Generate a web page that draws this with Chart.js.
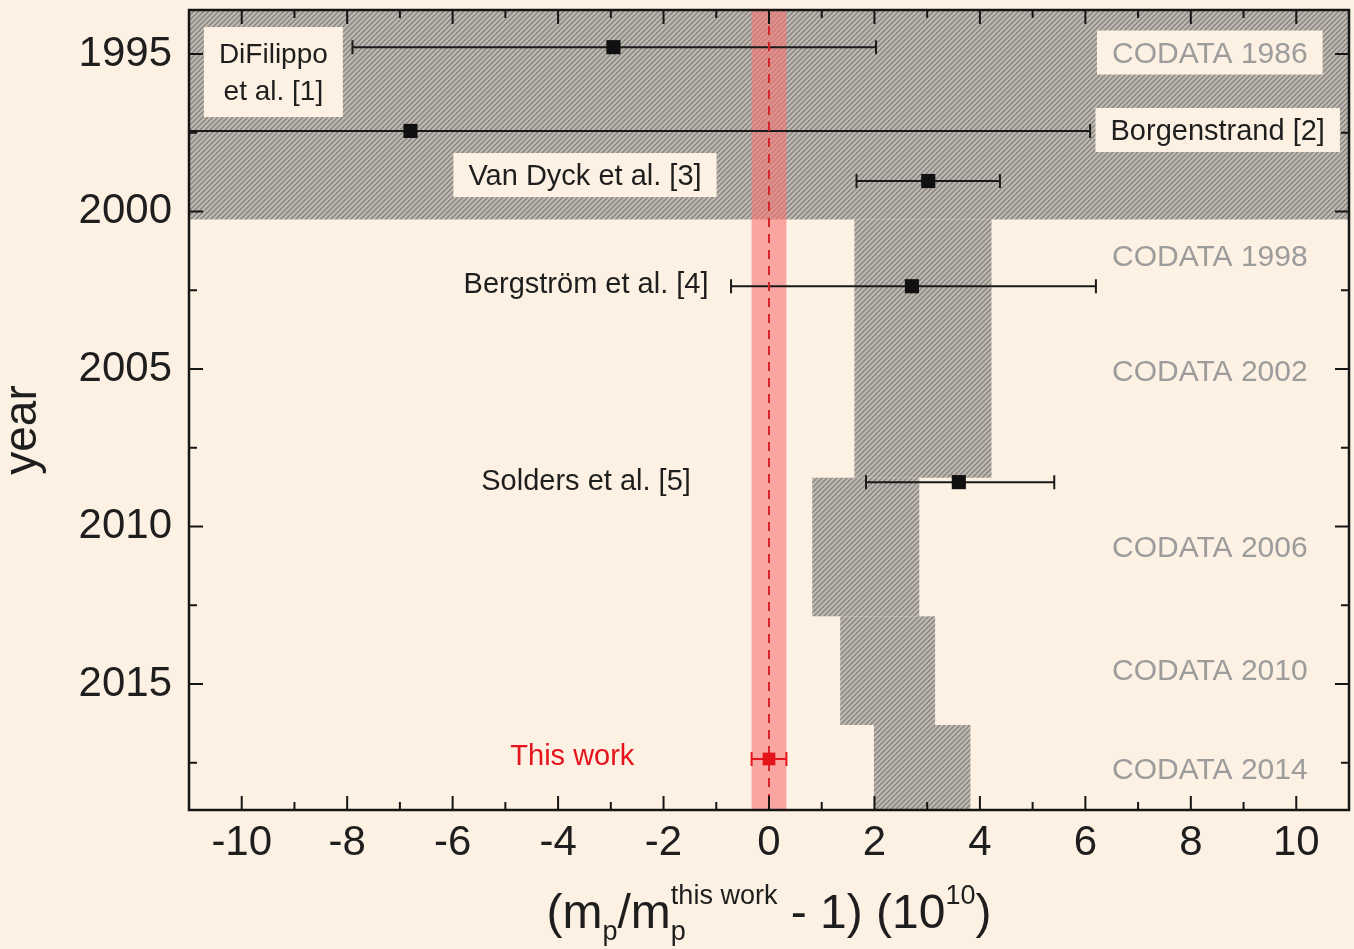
<!DOCTYPE html>
<html>
<head>
<meta charset="utf-8">
<script src="https://cdn.jsdelivr.net/npm/chart.js@4.4.1/dist/chart.umd.min.js"></script>
<style>
  html, body { margin: 0; padding: 0; background: #fdf1e3; }
  canvas { display: block; }
</style>
</head>
<body>
<canvas id="massChart" width="1354" height="949"></canvas>
<script>
// measurements (x in units of 1e-10, y = year of publication)
var studyNames = ["DiFilippo\net al. [1]", "Borgenstrand [2]", "Van Dyck et al. [3]", "Bergström et al. [4]", "Solders et al. [5]"];
var studyYear  = [1994.78, 1997.44, 1999.03, 2002.37, 2008.59];
var studyValue = [-2.95, -6.8, 3.02, 2.71, 3.6];
var studyLow   = [-7.9, -19.7, 1.66, -0.72, 1.84];
var studyHigh  = [2.03, 6.09, 4.38, 6.2, 5.41];

var thisWorkYear  = [2017.38];
var thisWorkValue = [0];
var thisWorkLow   = [-0.33];
var thisWorkHigh  = [0.33];

// CODATA recommended values, drawn as bands
var codataNames = ["CODATA 1986", "CODATA 1998", "CODATA 2002", "CODATA 2006", "CODATA 2010", "CODATA 2014"];
var codataFrom  = [1990, 2000.25, 2004.3, 2008.45, 2012.85, 2016.3];
var codataTo    = [2000.25, 2004.3, 2008.45, 2012.85, 2016.3, 2022];
var codataLow   = [-25, 1.62, 1.62, 0.82, 1.35, 1.99];
var codataHigh  = [25, 4.22, 4.22, 2.85, 3.15, 3.82];

// axes
var xTickValues  = [-10, -8, -6, -4, -2, 0, 2, 4, 6, 8, 10];
var xMinorValues = [-11, -9, -7, -5, -3, -1, 1, 3, 5, 7, 9, 11];
var yTickValues  = [1995, 2000, 2005, 2010, 2015];
var yMinorValues = [1997.5, 2002.5, 2007.5, 2012.5, 2017.5];

// where the text labels sit (data coordinates)
var studyLabelAt = [[-9.4, 1995.57], [8.51, 1997.41], [-3.49, 1998.84], [-3.47, 2002.27], [-3.47, 2008.52]];
var studyLabelBox = [true, true, true, false, false];
var codataLabelX = 8.36;
var codataLabelY = [1994.95, 2001.41, 2005.06, 2010.65, 2014.56, 2017.7];
var thisWorkLabelAt = [-3.73, 2017.25];

var BG = "#fdf1e3";
var FONT = "'Liberation Sans', Arial, sans-serif";
var RED = "#e5141c";

function makeHatch(ctx) {
    var c = document.createElement("canvas");
    c.width = 5; c.height = 5;
    var g = c.getContext("2d");
    g.fillStyle = "#bfbab3";
    g.fillRect(0, 0, 5, 5);
    g.strokeStyle = "#87827c";
    g.lineWidth = 1.4;
    g.beginPath();
    g.moveTo(-1, 6); g.lineTo(6, -1);
    g.moveTo(-1, 1); g.lineTo(1, -1);
    g.moveTo(4, 6); g.lineTo(6, 4);
    g.stroke();
    return ctx.createPattern(c, "repeat");
}

function drawLabel(ctx, text, px, py, color, boxed, size) {
    var lines = text.split("\n");
    var gap = 37;
    ctx.font = size + "px " + FONT;
    var w = 0;
    lines.forEach(function (l) { w = Math.max(w, ctx.measureText(l).width); });
    if (boxed) {
        var bw = w + 30, bh = 44 + (lines.length - 1) * 46;
        ctx.fillStyle = BG;
        ctx.fillRect(px - bw / 2, py - bh / 2, bw, bh);
    }
    ctx.fillStyle = color;
    ctx.textAlign = "center";
    ctx.textBaseline = "middle";
    lines.forEach(function (l, i) {
        ctx.fillText(l, px, py + (i - (lines.length - 1) / 2) * gap + 2);
    });
}

function drawErrorBar(ctx, xs, ys, low, high, y, color, cap) {
    var py = ys.getPixelForValue(y);
    var a = xs.getPixelForValue(low), b = xs.getPixelForValue(high);
    ctx.strokeStyle = color;
    ctx.lineWidth = 2;
    ctx.beginPath();
    ctx.moveTo(a, py); ctx.lineTo(b, py);
    ctx.moveTo(a, py - cap); ctx.lineTo(a, py + cap);
    ctx.moveTo(b, py - cap); ctx.lineTo(b, py + cap);
    ctx.stroke();
}

var backgroundPlugin = {
    id: "background",
    beforeDraw: function (chart) {
        var ctx = chart.ctx;
        ctx.save();
        ctx.fillStyle = BG;
        ctx.fillRect(0, 0, chart.width, chart.height);
        ctx.restore();
    },
    beforeDatasetsDraw: function (chart) {
        var ctx = chart.ctx, a = chart.chartArea;
        var xs = chart.scales.x, ys = chart.scales.y;
        ctx.save();
        ctx.beginPath();
        ctx.rect(a.left, a.top, a.right - a.left, a.bottom - a.top);
        ctx.clip();

        // CODATA bands
        ctx.fillStyle = makeHatch(ctx);
        for (var i = 0; i < codataNames.length; i++) {
            var x1 = xs.getPixelForValue(codataLow[i]), x2 = xs.getPixelForValue(codataHigh[i]);
            var y1 = ys.getPixelForValue(codataFrom[i]), y2 = ys.getPixelForValue(codataTo[i]);
            ctx.fillRect(x1, y1, x2 - x1, y2 - y1);
        }

        // labels
        for (i = 0; i < codataNames.length; i++) {
            drawLabel(ctx, codataNames[i], xs.getPixelForValue(codataLabelX), ys.getPixelForValue(codataLabelY[i]), "#9c9c9c", i === 0, 30);
        }
        for (i = 0; i < studyNames.length; i++) {
            drawLabel(ctx, studyNames[i], xs.getPixelForValue(studyLabelAt[i][0]), ys.getPixelForValue(studyLabelAt[i][1]), "#1e1e1e", studyLabelBox[i], i === 0 ? 28 : 29);
        }
        drawLabel(ctx, "This work", xs.getPixelForValue(thisWorkLabelAt[0]), ys.getPixelForValue(thisWorkLabelAt[1]), RED, false, 29);

        // band of this work
        var r1 = xs.getPixelForValue(thisWorkLow[0]), r2 = xs.getPixelForValue(thisWorkHigh[0]);
        ctx.fillStyle = "rgba(247,120,120,0.62)";
        ctx.fillRect(r1, a.top, r2 - r1, a.bottom - a.top);

        // error bars
        for (i = 0; i < studyYear.length; i++) {
            drawErrorBar(ctx, xs, ys, studyLow[i], studyHigh[i], studyYear[i], "#1a1a1a", 7);
        }
        drawErrorBar(ctx, xs, ys, thisWorkLow[0], thisWorkHigh[0], thisWorkYear[0], RED, 7);

        // dashed line at zero
        var z = xs.getPixelForValue(thisWorkValue[0]);
        ctx.strokeStyle = "#d3262b";
        ctx.lineWidth = 2;
        ctx.setLineDash([9, 7]);
        ctx.beginPath();
        ctx.moveTo(z, a.top); ctx.lineTo(z, a.bottom);
        ctx.stroke();
        ctx.restore();
    },
    afterDraw: function (chart) {
        var ctx = chart.ctx, a = chart.chartArea;
        var xs = chart.scales.x, ys = chart.scales.y;
        ctx.save();
        ctx.strokeStyle = "#151515";
        ctx.lineWidth = 2;
        ctx.beginPath();
        xTickValues.forEach(function (v) {
            var p = xs.getPixelForValue(v);
            ctx.moveTo(p, a.bottom); ctx.lineTo(p, a.bottom - 14);
            ctx.moveTo(p, a.top); ctx.lineTo(p, a.top + 14);
        });
        xMinorValues.forEach(function (v) {
            var p = xs.getPixelForValue(v);
            ctx.moveTo(p, a.bottom); ctx.lineTo(p, a.bottom - 8);
            ctx.moveTo(p, a.top); ctx.lineTo(p, a.top + 8);
        });
        yTickValues.forEach(function (v) {
            var p = ys.getPixelForValue(v);
            ctx.moveTo(a.left, p); ctx.lineTo(a.left + 14, p);
            ctx.moveTo(a.right, p); ctx.lineTo(a.right - 14, p);
        });
        yMinorValues.forEach(function (v) {
            var p = ys.getPixelForValue(v);
            ctx.moveTo(a.left, p); ctx.lineTo(a.left + 8, p);
            ctx.moveTo(a.right, p); ctx.lineTo(a.right - 8, p);
        });
        ctx.stroke();
        ctx.lineWidth = 2.5;
        ctx.strokeRect(a.left, a.top, a.right - a.left, a.bottom - a.top);

        // axis titles
        ctx.fillStyle = "#1e1e1e";
        ctx.textBaseline = "alphabetic";
        ctx.save();
        ctx.translate(36, 430);
        ctx.rotate(-Math.PI / 2);
        ctx.textAlign = "center";
        ctx.font = "46px " + FONT;
        ctx.fillText("year", 0, 0);
        ctx.restore();

        var runs = [
            { t: "(m", s: 48, dy: 0 },
            { t: "p", s: 27, dy: 12 },
            { t: "/m", s: 48, dy: 0 },
            { t: "p", s: 27, dy: 12, stay: true },
            { t: "this work", s: 27, dy: -24 },
            { t: " - 1) (10", s: 48, dy: 0 },
            { t: "10", s: 27, dy: -24 },
            { t: ")", s: 48, dy: 0 }
        ];
        var total = 0;
        runs.forEach(function (r) {
            ctx.font = r.s + "px " + FONT;
            r.w = ctx.measureText(r.t).width;
            if (!r.stay) total += r.w;
        });
        var x = (a.left + a.right) / 2 - total / 2, base = 928;
        ctx.textAlign = "left";
        runs.forEach(function (r) {
            ctx.font = r.s + "px " + FONT;
            ctx.fillText(r.t, x, base + r.dy);
            if (!r.stay) x += r.w;
        });
        ctx.restore();
    }
};

var studyPoints = studyYear.map(function (y, i) { return { x: studyValue[i], y: y }; });
var thisWorkPoints = thisWorkYear.map(function (y, i) { return { x: thisWorkValue[i], y: y }; });

window.onload = function () {
    var ctx = document.getElementById("massChart").getContext("2d");
    window.massChart = new Chart(ctx, {
        type: "scatter",
        data: {
            datasets: [
                {
                    label: "measurements",
                    data: studyPoints,
                    pointStyle: "rect",
                    pointRadius: 10,
                    backgroundColor: "#111111",
                    borderWidth: 0
                },
                {
                    label: "this work",
                    data: thisWorkPoints,
                    pointStyle: "rect",
                    pointRadius: 9,
                    backgroundColor: RED,
                    borderWidth: 0
                }
            ]
        },
        options: {
            responsive: false,
            animation: false,
            layout: { autoPadding: false, padding: { top: 10, right: 5, left: 0, bottom: 0 } },
            plugins: { legend: { display: false }, tooltip: { enabled: false } },
            scales: {
                x: {
                    type: "linear",
                    min: -11,
                    max: 11,
                    afterBuildTicks: function (s) { s.ticks = xTickValues.map(function (v) { return { value: v }; }); },
                    afterFit: function (s) { s.height = 139; s.paddingLeft = 0; s.paddingRight = 0; },
                    grid: { display: false, drawTicks: false },
                    border: { display: false },
                    ticks: {
                        padding: 8,
                        color: "#1e1e1e",
                        font: { family: FONT, size: 42 },
                        maxRotation: 0,
                        autoSkip: false,
                        callback: function (v) { return String(v); }
                    }
                },
                y: {
                    type: "linear",
                    reverse: true,
                    min: 1993.6,
                    max: 2019.0,
                    afterBuildTicks: function (s) { s.ticks = yTickValues.map(function (v) { return { value: v }; }); },
                    afterFit: function (s) { s.width = 189; s.paddingTop = 0; s.paddingBottom = 0; },
                    grid: { display: false, drawTicks: false },
                    border: { display: false },
                    ticks: {
                        padding: 17,
                        color: "#1e1e1e",
                        font: { family: FONT, size: 42 },
                        autoSkip: false,
                        callback: function (v) { return String(v); }
                    }
                }
            }
        },
        plugins: [backgroundPlugin]
    });
};
</script>
</body>
</html>
